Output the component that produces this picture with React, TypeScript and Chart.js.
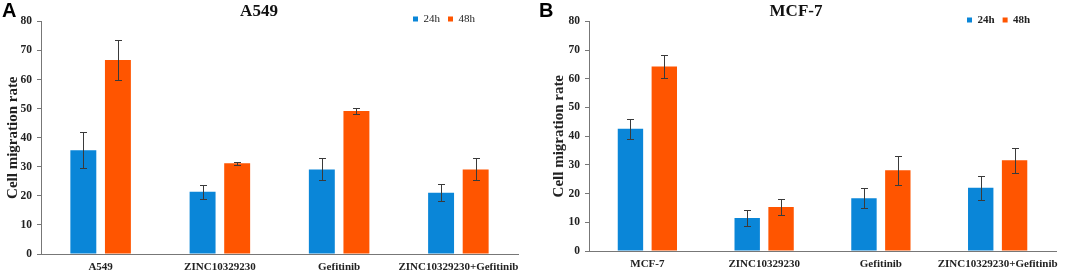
import React, { useEffect, useRef } from 'react';
import { Chart, registerables } from 'chart.js';

Chart.register(...registerables);

// ---------- data ----------
const categoriesA = ['A549', 'ZINC10329230', 'Gefitinib', 'ZINC10329230+Gefitinib'];
const categoriesB = ['MCF-7', 'ZINC10329230', 'Gefitinib', 'ZINC10329230+Gefitinib'];
const seriesLabels = ['24h', '48h'];

const a24 = [35.7, 21.4, 29.1, 21.1];
const a24Err = [6.2, 2.5, 3.8, 3.0];
const a48 = [66.7, 31.2, 49.2, 29.1];
const a48Err = [7.0, 0.6, 1.0, 3.8];

const b24 = [42.6, 11.5, 18.4, 22.0];
const b24Err = [3.5, 2.9, 3.5, 4.2];
const b48 = [64.3, 15.3, 28.1, 31.6];
const b48Err = [4.1, 2.8, 5.0, 4.3];

const yMin = 0;
const yMax = 80;
const yStep = 10;

const BLUE = '#0a86d8';
const ORANGE = '#ff5500';
const SERIF = "'Liberation Serif', 'Times New Roman', serif";

// ---------- plugins ----------
const errorBarPlugin = {
  id: 'errorBars',
  afterDatasetsDraw(chart: any) {
    const ctx = chart.ctx;
    const y = chart.scales.y;
    chart.data.datasets.forEach((ds: any, i: number) => {
      const meta = chart.getDatasetMeta(i);
      meta.data.forEach((el: any, j: number) => {
        const v = ds.data[j];
        const e = ds.errors[j];
        const top = Math.round(y.getPixelForValue(v + e)) + 0.5;
        const bot = Math.round(y.getPixelForValue(v - e)) + 0.5;
        const x = Math.round(el.x) + 0.5;
        ctx.save();
        ctx.strokeStyle = '#3a3a3a';
        ctx.lineWidth = 1;
        ctx.beginPath();
        ctx.moveTo(x, top);
        ctx.lineTo(x, bot);
        ctx.moveTo(x - 3.5, top);
        ctx.lineTo(x + 3.5, top);
        ctx.moveTo(x - 3.5, bot);
        ctx.lineTo(x + 3.5, bot);
        ctx.stroke();
        ctx.restore();
      });
    });
  },
};

// legend sits in the title row: it takes no layout space and is placed at (x, cy)
function makeLegendShift(x: number, cy: number) {
  return {
    id: 'legendShift',
    beforeUpdate(chart: any) {
      const lg = chart.legend;
      if (lg && !lg.__patched) {
        const f = lg.fit;
        lg.fit = function () {
          f.call(this);
          this.height = 0;
        };
        lg.__patched = true;
      }
    },
    beforeDraw(chart: any) {
      const lg = chart.legend;
      if (!lg) return;
      const pad = lg.options.labels.padding;
      const fs = lg.options.labels.font.size || 11;
      lg.left = x - pad;
      lg.right = lg.left + 2000;
      lg.top = cy - pad - fs / 2;
      lg.bottom = lg.top + fs + 2 * pad;
    },
  };
}

type PanelProps = {
  title: string;
  categories: string[];
  s24: number[];
  e24: number[];
  s48: number[];
  e48: number[];
  width: number;
  yWidth: number;
  xHeight: number;
  padRight: number;
  yTitlePad: number;
  legendX: number;
  legendCy: number;
  legendBold: boolean;
};

function Panel(p: PanelProps) {
  const ref = useRef<HTMLCanvasElement | null>(null);
  useEffect(() => {
    if (!ref.current) return;
    const chart = new Chart(ref.current, {
      type: 'bar',
      data: {
        labels: p.categories,
        datasets: [
          {
            label: seriesLabels[0],
            data: p.s24,
            errors: p.e24,
            backgroundColor: BLUE,
            borderWidth: 0,
            categoryPercentage: 0.58,
            barPercentage: 0.75,
          } as any,
          {
            label: seriesLabels[1],
            data: p.s48,
            errors: p.e48,
            backgroundColor: ORANGE,
            borderWidth: 0,
            categoryPercentage: 0.58,
            barPercentage: 0.75,
          } as any,
        ],
      },
      options: {
        responsive: false,
        animation: false,
        devicePixelRatio: 1,
        layout: { padding: { left: 0, right: p.padRight, top: 0, bottom: 0 } },
        plugins: {
          title: {
            display: true,
            text: p.title,
            color: '#111',
            font: { family: SERIF, size: 17, weight: 'bold' },
            padding: { top: 1, bottom: 0 },
          },
          legend: {
            display: true,
            position: 'top',
            align: 'start',
            labels: {
              boxWidth: 5,
              boxHeight: 5,
              padding: 8,
              color: '#222',
              font: { family: SERIF, size: 11, weight: p.legendBold ? 'bold' : 'normal' },
            },
          },
          tooltip: { enabled: false },
        },
        scales: {
          x: {
            grid: { display: false, drawTicks: false, tickLength: 0 },
            border: { display: true, color: '#777', width: 1 },
            ticks: {
              color: '#222',
              font: { family: SERIF, size: 11, weight: 'bold' },
              padding: 7,
              autoSkip: false,
              maxRotation: 0,
              minRotation: 0,
            },
            afterFit: (s: any) => {
              s.height = p.xHeight;
            },
          },
          y: {
            min: yMin,
            max: yMax,
            grid: { display: true, drawOnChartArea: false, drawTicks: true, tickLength: 4, color: '#777' },
            border: { display: true, color: '#777', width: 1 },
            ticks: {
              stepSize: yStep,
              color: '#222',
              font: { family: SERIF, size: 11.5, weight: 'bold' },
              padding: 5,
            },
            title: {
              display: true,
              text: 'Cell migration rate',
              color: '#222',
              font: { family: SERIF, size: 15, weight: 'bold' },
              padding: { top: p.yTitlePad, bottom: 0 },
            },
            afterFit: (s: any) => {
              s.width = p.yWidth;
            },
          },
        },
      } as any,
      plugins: [errorBarPlugin, makeLegendShift(p.legendX, p.legendCy)],
    });
    return () => chart.destroy();
  }, []);
  return <canvas ref={ref} width={p.width} height={278} style={{ display: 'block' }} />;
}

const letterStyle: React.CSSProperties = {
  position: 'absolute',
  top: 0,
  fontFamily: "'Liberation Sans', Arial, sans-serif",
  fontWeight: 'bold',
  fontSize: '20px',
  lineHeight: '20px',
  color: '#000',
};

export default function App() {
  return (
    <div style={{ position: 'fixed', left: 0, top: 0, width: 1065, height: 278, background: '#fff', overflow: 'hidden' }}>
      <div style={{ position: 'absolute', left: 0, top: 0, width: 530, height: 278 }}>
        <Panel
          title="A549"
          categories={categoriesA}
          s24={a24}
          e24={a24Err}
          s48={a48}
          e48={a48Err}
          width={530}
          yWidth={41}
          xHeight={24}
          padRight={12}
          yTitlePad={4}
          legendX={413}
          legendCy={19}
          legendBold={false}
        />
      </div>
      <div style={{ position: 'absolute', left: 530, top: 0, width: 535, height: 278 }}>
        <Panel
          title="MCF-7"
          categories={categoriesB}
          s24={b24}
          e24={b24Err}
          s48={b48}
          e48={b48Err}
          width={535}
          yWidth={59}
          xHeight={27}
          padRight={3}
          yTitlePad={20}
          legendX={437}
          legendCy={20}
          legendBold={true}
        />
      </div>
      <div style={{ ...letterStyle, left: 2 }}>A</div>
      <div style={{ ...letterStyle, left: 539 }}>B</div>
    </div>
  );
}
